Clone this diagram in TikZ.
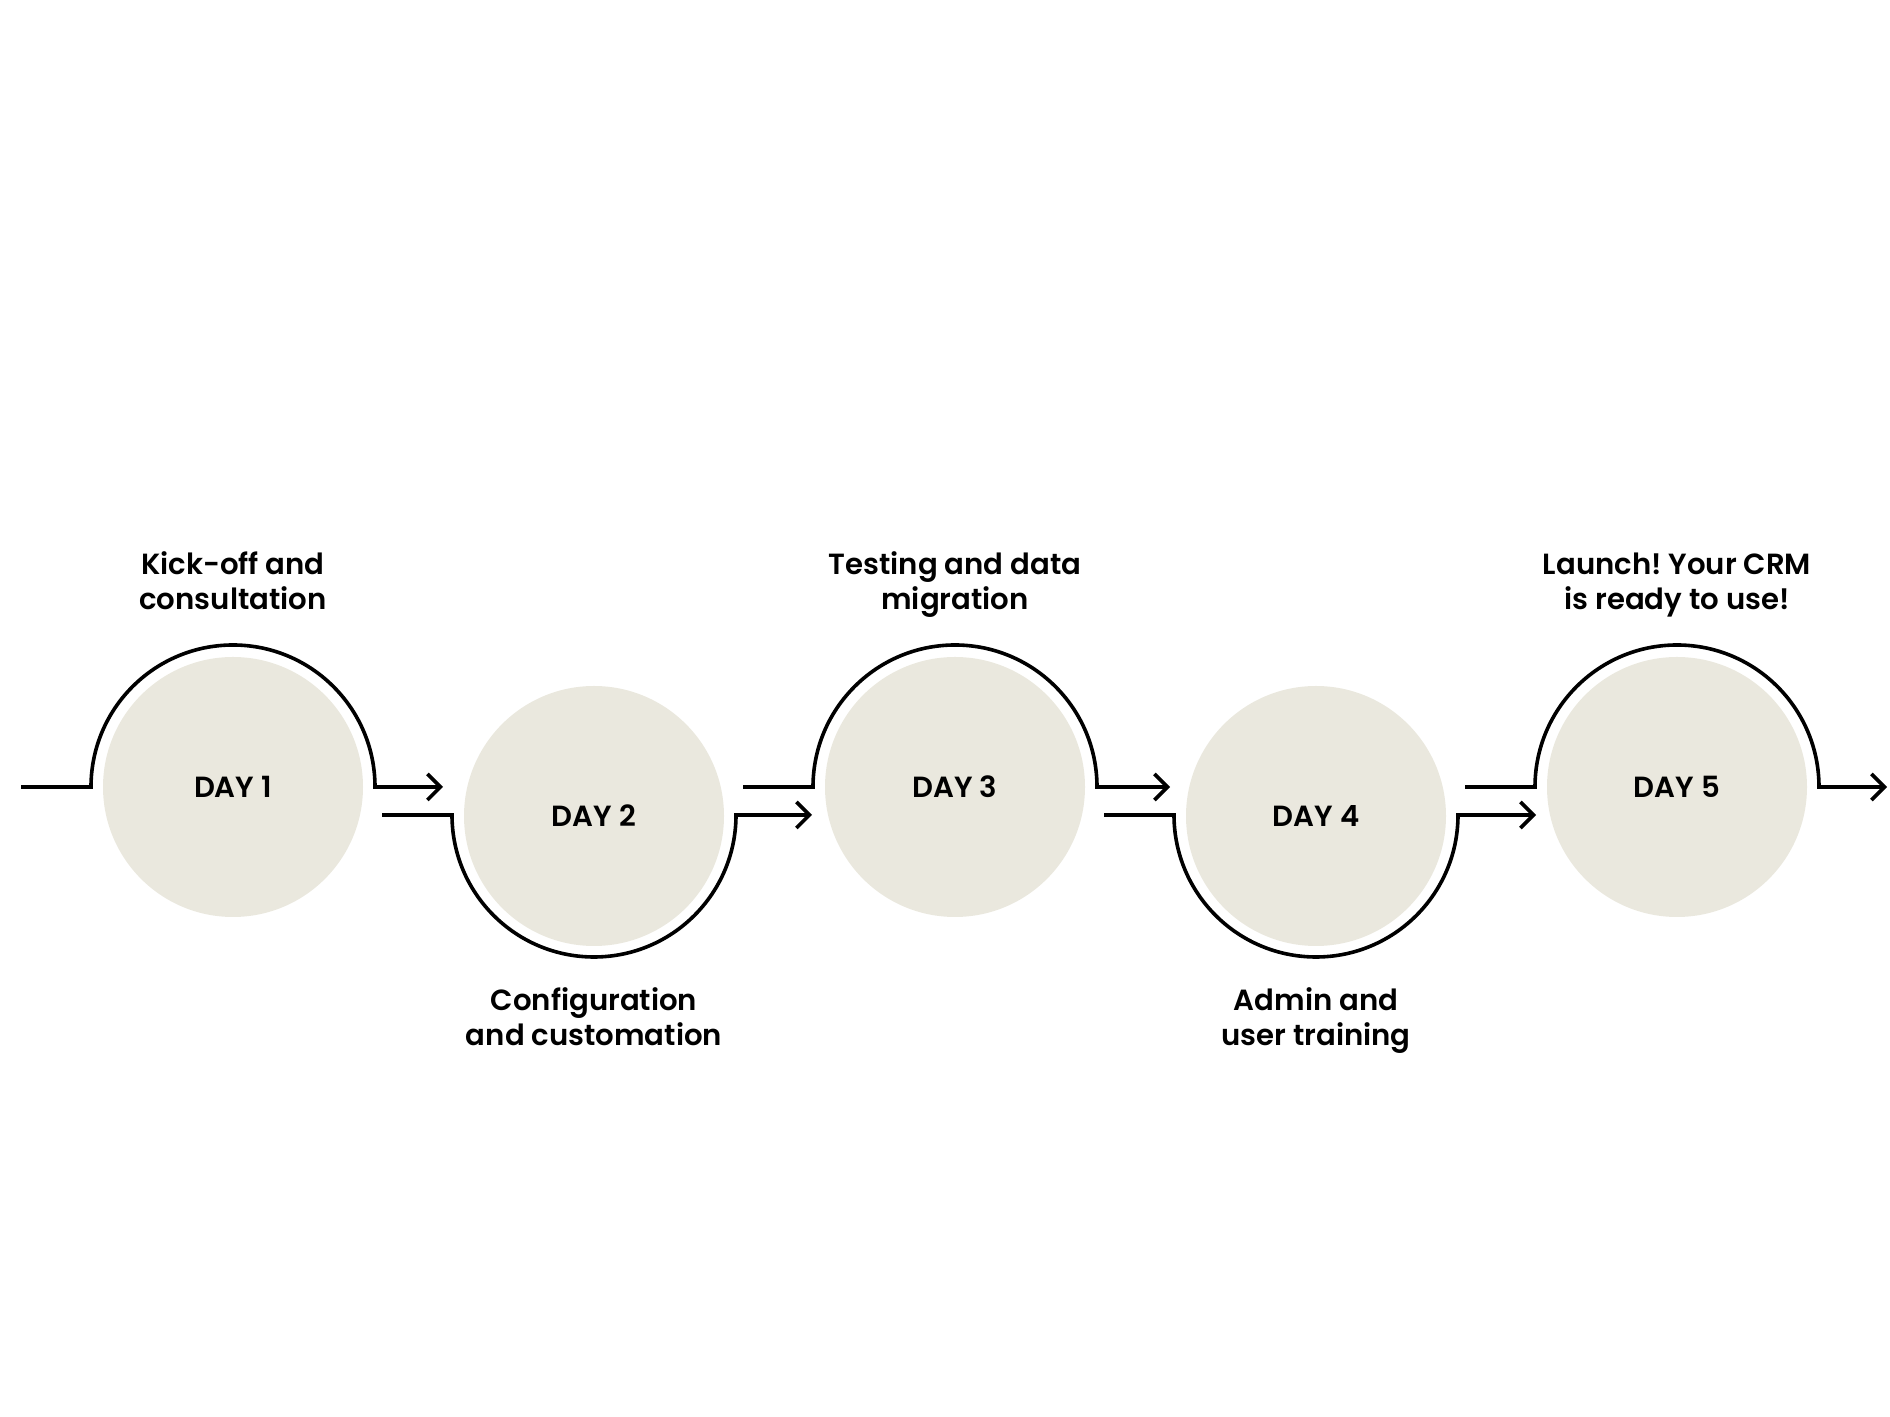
\documentclass[tikz,border=0pt]{standalone}
\usepackage{fontspec}
\setmainfont{Poppins}[BoldFont={Poppins SemiBold}]
\frenchspacing
\usetikzlibrary{arrows.meta}
\definecolor{daybeige}{RGB}{234,232,222}
\tikzset{
	daycircle/.style={circle, fill=daybeige, minimum size=26mm, inner sep=0pt, font=\fontsize{8.3}{10}\selectfont\bfseries},
	steptext/.style={align=center, inner sep=0pt, font=\fontsize{8.3}{10}\selectfont\bfseries},
	flowline/.style={line width=0.36mm, -{Straight Barb[length=1.3mm,width=2.6mm]}}
}

\begin{document}
\begin{tikzpicture}
		%%%%% START %%%%%
		\useasboundingbox (0, 0) rectangle (18.9, 14.17);
		
		\node[daycircle] (day1) at (2.33, 6.30) {DAY 1};
		\node[daycircle] (day2) at (5.94, 6.01) {DAY 2};
		\node[daycircle] (day3) at (9.55, 6.30) {DAY 3};
		\node[daycircle] (day4) at (13.16, 6.01) {DAY 4};
		\node[daycircle] (day5) at (16.77, 6.30) {DAY 5};
		
		% over the top
		\draw[flowline] ([xshift=-21.2mm]day1.center) -- ++(0.7, 0) arc[start angle=180, end angle=0, radius=1.42] -- ++(0.68, 0);
		\draw[flowline] ([xshift=-21.2mm]day3.center) -- ++(0.7, 0) arc[start angle=180, end angle=0, radius=1.42] -- ++(0.73, 0);
		\draw[flowline] ([xshift=-21.2mm]day5.center) -- ++(0.7, 0) arc[start angle=180, end angle=0, radius=1.42] -- ++(0.68, 0);
		
		% under the bottom
		\draw[flowline] ([xshift=-21.2mm, yshift=0.1mm]day2.center) -- ++(0.7, 0) arc[start angle=180, end angle=360, radius=1.42] -- ++(0.76, 0);
		\draw[flowline] ([xshift=-21.2mm, yshift=0.1mm]day4.center) -- ++(0.7, 0) arc[start angle=180, end angle=360, radius=1.42] -- ++(0.78, 0);
		
		\node[steptext, anchor=base] (top1) at ([yshift=17.7mm]day1.center) {Kick-off and\\consultation};
		\node[steptext, anchor=base] (top3) at ([yshift=17.7mm]day3.center) {Testing and data\\migration};
		\node[steptext, anchor=base] (top5) at ([yshift=17.7mm]day5.center) {Launch! Your CRM\\is ready to use!};
		\node[steptext, anchor=base] (bot2) at ([yshift=-23.0mm]day2.center) {Configuration\\and customation};
		\node[steptext, anchor=base] (bot4) at ([yshift=-23.0mm]day4.center) {Admin and\\user training};
		
		%%%%% END %%%%%
	\end{tikzpicture}
\end{document}
